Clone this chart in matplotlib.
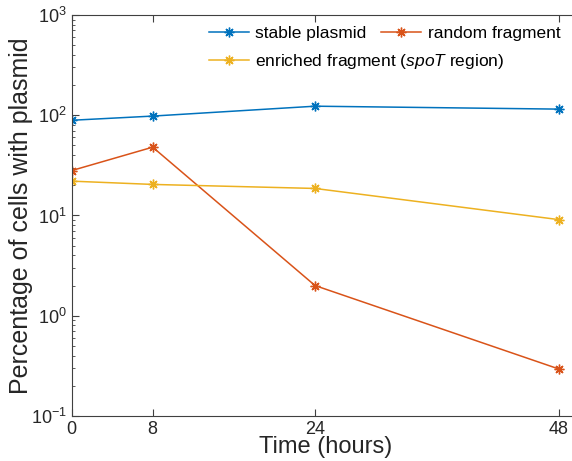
import numpy as np
import matplotlib
matplotlib.use('Agg')
import matplotlib.pyplot as plt

plt.rcParams['font.family'] = ['Liberation Sans', 'DejaVu Sans']
plt.rcParams['mathtext.fontset'] = 'custom'
plt.rcParams['mathtext.rm'] = 'Liberation Sans'
plt.rcParams['mathtext.it'] = 'Liberation Sans:italic'

hours = [0, 8, 24, 48]
stable = [89, 98, 123, 115]
random_frag = [28, 48, 2.0, 0.295]
enriched = [22, 20.4, 18.6, 9.1]

names = ['stable plasmid', 'random fragment', r'enriched fragment ($\it{spoT}$ region)']
colors = ['#0072BD', '#D95319', '#EDB120']
axis_col = '#404040'

fig = plt.figure(figsize=(5.72, 4.61), dpi=100)
ax = fig.add_axes([0.125, 0.0976, 0.887, 0.870])

lines = []
for vals, name, c in zip([stable, random_frag, enriched], names, colors):
    ln, = ax.plot(hours, vals, color=c, lw=1.1, marker=(8, 2, 0), ms=7, mew=1.0, label=name)
    lines.append(ln)

ax.set_yscale('log')
ax.set_ylim(0.1, 1000)
ax.set_xlim(0, 50)
ax.set_xticks(hours)
ax.set_yticks([0.1, 1, 10, 100, 1000])
ax.set_yticklabels(['$10^{-1}$', '$10^{0}$', '$10^{1}$', '$10^{2}$', '$10^{3}$'])
ax.tick_params(which='both', direction='in', top=True, right=False, colors=axis_col,
               labelcolor='#262626', labelsize=13)
ax.tick_params(which='major', length=5)
ax.tick_params(which='minor', length=2.5)
ax.tick_params(axis='x', which='minor', top=False, bottom=False)
for side in ['left', 'bottom', 'top']:
    ax.spines[side].set_color(axis_col)
ax.spines['right'].set_visible(False)

ax.set_xlabel('Time (hours)', fontsize=17, color='#262626', labelpad=-1)
ax.set_ylabel('Percentage of cells with plasmid', fontsize=18, color='#262626', labelpad=-2)

# MATLAB-like legend layout: two rows, second column only holds "random fragment"
leg_kw = dict(loc='upper left', frameon=False, fontsize=12.5, handlelength=2.3,
              handletextpad=0.4, borderaxespad=0.25, labelspacing=0.6)
leg1 = ax.legend([lines[0], lines[2]], [names[0], names[2]],
                 bbox_to_anchor=(0.248, 1.0), **leg_kw)
ax.add_artist(leg1)
ax.legend([lines[1]], [names[1]], bbox_to_anchor=(0.588, 1.0), **leg_kw)

fig.savefig('out.png', dpi=100)
